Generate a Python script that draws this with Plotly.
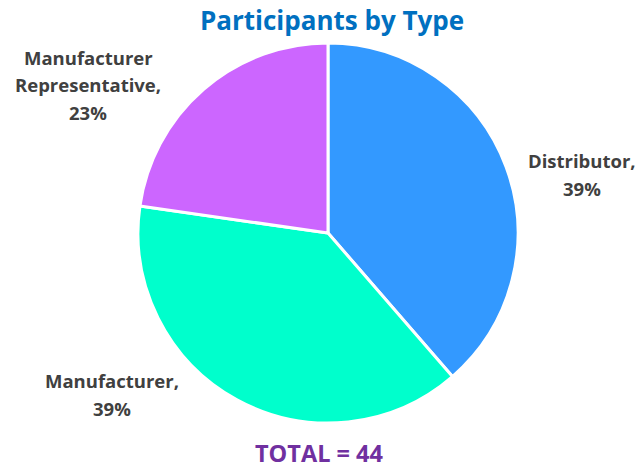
import plotly.graph_objects as go

labels = ["Distributor", "Manufacturer", "Manufacturer Representative"]
counts = [17, 17, 10]
colors = ["#3399FF", "#00FFCC", "#CC66FF"]
label_lines = [["Distributor,"], ["Manufacturer,"], ["Manufacturer", "Representative,"]]
total = sum(counts)

W, H = 641, 470


def px(x, y):
    return x / W, 1 - y / H


x0, y0 = px(138, 423)
x1, y1 = px(518, 43)

fig = go.Figure()
fig.add_trace(go.Pie(
    labels=labels,
    values=counts,
    sort=False,
    direction="clockwise",
    rotation=0,
    marker=dict(colors=colors, line=dict(color="white", width=3)),
    textinfo="none",
    hoverinfo="label+percent",
    domain=dict(x=[x0, x1], y=[y0, y1]),
    showlegend=False,
))

# outside labels, one annotation per line so the spacing matches
label_pos = [(582, 160), (112, 380), (88, 57)]
line_gap = 28
annotations = []
for lines, c, (lx, ly) in zip(label_lines, counts, label_pos):
    pct = round(100 * c / total)
    for i, t in enumerate(lines + [f"{pct}%"]):
        ax, ay = px(lx, ly + i * line_gap)
        annotations.append(dict(
            x=ax, y=ay, xref="paper", yref="paper", xanchor="center", yanchor="middle",
            text=t, showarrow=False,
            font=dict(family="Open Sans", size=18.5, color="#404040", weight="bold"),
        ))
tx, ty = px(319, 453)
annotations.append(dict(
    x=tx, y=ty, xref="paper", yref="paper", xanchor="center", yanchor="middle",
    text=f"TOTAL = {total}", showarrow=False,
    font=dict(family="Open Sans", size=23.5, color="#7030A0", weight="bold"),
))

hx, hy = px(332, 21)
fig.update_layout(
    title=dict(text="<b>Participants by Type</b>", x=hx, y=hy,
               xanchor="center", yanchor="middle",
               font=dict(family="Open Sans", size=26, color="#0070C0")),
    annotations=annotations,
    width=W, height=H,
    margin=dict(l=0, r=0, t=0, b=0),
    paper_bgcolor="white",
)

# drop the default body margin so the figure fills the window
fig.write_html("out.html", config={"displayModeBar": False},
               post_script="document.body.style.margin='0';")
